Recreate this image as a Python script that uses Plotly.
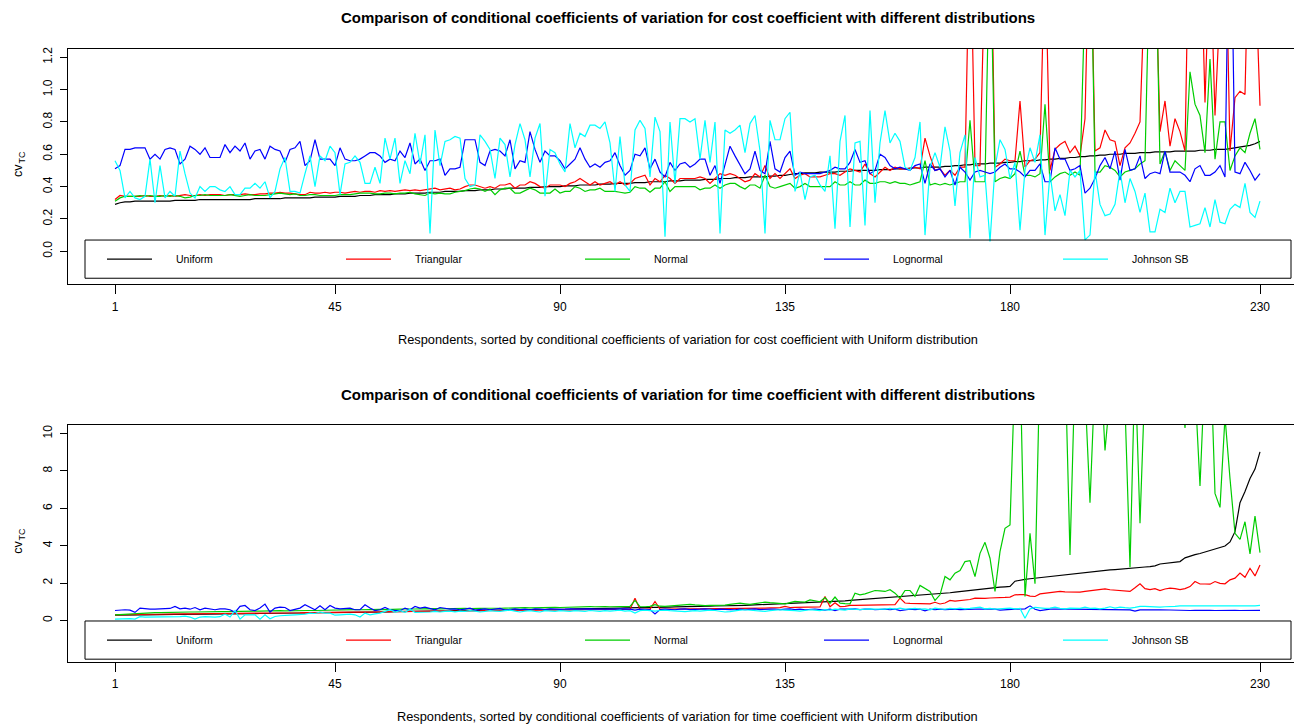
import plotly.graph_objects as go

W, H = 1294, 726

# ---------------- data ----------------
respondents = list(range(1, 231))
series_names = ["Uniform", "Triangular", "Normal", "Lognormal", "Johnson SB"]
series_colors = ["#000000", "#FF0000", "#00CD00", "#0000FF", "#00FFFF"]
x_tick_vals = [1, 45, 90, 135, 180, 230]
cost_y_ticks = [0.0, 0.2, 0.4, 0.6, 0.8, 1.0, 1.2]
time_y_ticks = [0, 2, 4, 6, 8, 10]

cost_title = "Comparison of conditional coefficients of variation for cost coefficient with different distributions"
time_title = "Comparison of conditional coefficients of variation for time coefficient with different distributions"
cost_xlabel = "Respondents, sorted by conditional coefficients of variation for cost coefficient with Uniform distribution"
time_xlabel = "Respondents, sorted by conditional coefficients of variation for time coefficient with Uniform distribution"
y_label_main = "cv"
y_label_sub = "TC"

cost_uniform = [
    0.29, 0.30, 0.305, 0.305, 0.31, 0.31, 0.31, 0.31, 0.31, 0.31,
    0.31, 0.31, 0.315, 0.315, 0.315, 0.315, 0.315, 0.32, 0.32, 0.32,
    0.32, 0.32, 0.32, 0.32, 0.32, 0.32, 0.32, 0.32, 0.325, 0.325,
    0.325, 0.325, 0.325, 0.325, 0.33, 0.33, 0.33, 0.33, 0.33, 0.33,
    0.335, 0.335, 0.335, 0.335, 0.335, 0.34, 0.34, 0.34, 0.34, 0.345,
    0.345, 0.345, 0.35, 0.35, 0.35, 0.35, 0.355, 0.355, 0.355, 0.36,
    0.36, 0.36, 0.36, 0.365, 0.365, 0.365, 0.37, 0.37, 0.37, 0.37,
    0.375, 0.375, 0.375, 0.38, 0.38, 0.38, 0.385, 0.385, 0.385, 0.39,
    0.39, 0.39, 0.39, 0.395, 0.395, 0.395, 0.40, 0.40, 0.40, 0.40,
    0.405, 0.405, 0.405, 0.41, 0.41, 0.41, 0.41, 0.415, 0.415, 0.415,
    0.42, 0.42, 0.42, 0.42, 0.425, 0.425, 0.425, 0.43, 0.43, 0.43,
    0.43, 0.435, 0.435, 0.435, 0.44, 0.44, 0.44, 0.44, 0.445, 0.445,
    0.445, 0.45, 0.45, 0.45, 0.455, 0.455, 0.455, 0.46, 0.46, 0.46,
    0.46, 0.465, 0.465, 0.47, 0.47, 0.475, 0.48, 0.48, 0.485, 0.485,
    0.485, 0.49, 0.49, 0.49, 0.49, 0.495, 0.495, 0.495, 0.50, 0.50,
    0.50, 0.50, 0.50, 0.505, 0.505, 0.505, 0.51, 0.51, 0.51, 0.515,
    0.515, 0.515, 0.52, 0.52, 0.52, 0.52, 0.525, 0.525, 0.53, 0.53,
    0.535, 0.535, 0.54, 0.54, 0.54, 0.545, 0.545, 0.545, 0.55, 0.55,
    0.555, 0.555, 0.56, 0.56, 0.56, 0.565, 0.565, 0.57, 0.57, 0.575,
    0.575, 0.58, 0.58, 0.585, 0.585, 0.59, 0.59, 0.595, 0.595, 0.60,
    0.60, 0.60, 0.605, 0.605, 0.605, 0.61, 0.61, 0.61, 0.615, 0.615,
    0.615, 0.615, 0.62, 0.62, 0.62, 0.62, 0.62, 0.625, 0.625, 0.625,
    0.63, 0.63, 0.63, 0.635, 0.64, 0.645, 0.65, 0.655, 0.665, 0.68,
]

cost_triangular = [
    0.32, 0.345, 0.34, 0.34, 0.34, 0.34, 0.345, 0.34, 0.34, 0.345,
    0.34, 0.345, 0.34, 0.345, 0.35, 0.345, 0.345, 0.35, 0.345, 0.35,
    0.35, 0.35, 0.345, 0.35, 0.35, 0.35, 0.355, 0.35, 0.35, 0.355,
    0.355, 0.36, 0.36, 0.365, 0.36, 0.36, 0.355, 0.35, 0.35, 0.365,
    0.36, 0.36, 0.365, 0.36, 0.365, 0.365, 0.36, 0.365, 0.37, 0.365,
    0.37, 0.37, 0.365, 0.375, 0.37, 0.375, 0.37, 0.375, 0.38, 0.375,
    0.38, 0.375, 0.38, 0.385, 0.39, 0.38, 0.385, 0.39, 0.38, 0.385,
    0.40, 0.41, 0.41, 0.40, 0.39, 0.40, 0.39, 0.41, 0.41, 0.42,
    0.39, 0.41, 0.41, 0.43, 0.42, 0.40, 0.39, 0.41, 0.41, 0.41,
    0.40, 0.42, 0.43, 0.45, 0.43, 0.41, 0.43, 0.41, 0.42, 0.43,
    0.41, 0.43, 0.41, 0.42, 0.45, 0.46, 0.47, 0.41, 0.45, 0.43,
    0.47, 0.45, 0.42, 0.45, 0.45, 0.45, 0.45, 0.46, 0.45, 0.42,
    0.45, 0.48, 0.47, 0.48, 0.47, 0.45, 0.43, 0.44, 0.48, 0.46,
    0.53, 0.45, 0.48, 0.45, 0.48, 0.51, 0.45, 0.47, 0.48, 0.46,
    0.46, 0.46, 0.47, 0.48, 0.48, 0.47, 0.49, 0.51, 0.50, 0.49,
    0.54, 0.48, 0.46, 0.49, 0.52, 0.50, 0.52, 0.51, 0.51, 0.51,
    0.52, 0.51, 0.70, 0.59, 0.50, 0.51, 0.47, 0.50, 0.47, 0.52,
    0.52, 2.1, 0.53, 0.53, 1.8, 2.3, 0.52, 0.54, 0.57, 0.56,
    0.56, 0.93, 0.52, 0.56, 0.57, 0.61, 1.9, 0.50, 0.63, 0.66,
    0.68, 0.61, 0.65, 0.59, 0.82, 2.2, 0.62, 0.64, 0.75, 0.69,
    0.68, 0.53, 0.64, 0.67, 0.73, 0.80, 1.7, 2.0, 1.9, 0.74,
    0.93, 0.65, 0.82, 0.74, 0.62, 2.4, 1.8, 2.1, 0.92, 1.9,
    0.84, 1.7, 2.2, 0.62, 0.95, 0.99, 0.97, 2.3, 1.8, 0.90,
]

cost_normal = [
    0.31, 0.33, 0.34, 0.34, 0.34, 0.345, 0.34, 0.345, 0.34, 0.34,
    0.345, 0.34, 0.345, 0.34, 0.33, 0.335, 0.345, 0.345, 0.35, 0.345,
    0.345, 0.345, 0.345, 0.35, 0.345, 0.34, 0.345, 0.35, 0.345, 0.345,
    0.345, 0.35, 0.355, 0.36, 0.355, 0.35, 0.355, 0.345, 0.345, 0.35,
    0.35, 0.345, 0.345, 0.345, 0.345, 0.35, 0.35, 0.35, 0.355, 0.36,
    0.36, 0.36, 0.355, 0.355, 0.36, 0.36, 0.355, 0.36, 0.36, 0.365,
    0.355, 0.35, 0.345, 0.36, 0.355, 0.36, 0.355, 0.355, 0.365, 0.37,
    0.375, 0.385, 0.39, 0.385, 0.37, 0.385, 0.35, 0.38, 0.39, 0.39,
    0.36, 0.36, 0.375, 0.39, 0.38, 0.36, 0.36, 0.36, 0.385, 0.36,
    0.37, 0.37, 0.40, 0.39, 0.37, 0.38, 0.38, 0.39, 0.37, 0.37,
    0.37, 0.365, 0.36, 0.365, 0.40, 0.39, 0.39, 0.365, 0.39, 0.39,
    0.43, 0.37, 0.40, 0.40, 0.40, 0.40, 0.40, 0.38, 0.39, 0.39,
    0.41, 0.39, 0.41, 0.42, 0.42, 0.40, 0.385, 0.41, 0.41, 0.39,
    0.47, 0.40, 0.39, 0.40, 0.41, 0.42, 0.39, 0.40, 0.42, 0.40,
    0.40, 0.40, 0.40, 0.40, 0.43, 0.41, 0.41, 0.43, 0.41, 0.41,
    0.44, 0.42, 0.42, 0.43, 0.43, 0.42, 0.43, 0.42, 0.42, 0.41,
    0.42, 0.43, 0.56, 0.41, 0.42, 0.41, 0.42, 0.41, 0.42, 0.43,
    0.43, 0.81, 0.43, 0.43, 0.43, 2.0, 0.43, 0.45, 0.46, 0.45,
    0.48, 0.62, 0.47, 0.47, 0.46, 0.48, 0.91, 0.43, 0.46, 0.48,
    0.49, 0.47, 0.49, 0.47, 1.6, 2.2, 0.49, 0.49, 0.53, 0.52,
    0.50, 0.46, 0.49, 0.50, 0.51, 0.54, 0.56, 1.9, 2.1, 0.54,
    0.62, 0.50, 0.56, 0.53, 0.50, 1.11, 0.91, 0.84, 0.61, 1.19,
    0.57, 0.80, 0.80, 0.50, 0.59, 0.64, 0.61, 0.73, 0.82, 0.63,
]

cost_lognormal = [
    0.51, 0.53, 0.63, 0.63, 0.64, 0.64, 0.64, 0.57, 0.60, 0.57,
    0.63, 0.64, 0.63, 0.54, 0.57, 0.65, 0.63, 0.60, 0.64, 0.58,
    0.58, 0.58, 0.66, 0.61, 0.65, 0.62, 0.67, 0.57, 0.62, 0.63,
    0.57, 0.65, 0.63, 0.62, 0.55, 0.63, 0.64, 0.68, 0.53, 0.56,
    0.69, 0.57, 0.57, 0.57, 0.53, 0.64, 0.57, 0.56, 0.56, 0.57,
    0.59, 0.61, 0.61, 0.59, 0.55, 0.57, 0.56, 0.62, 0.58, 0.67,
    0.54, 0.57, 0.50, 0.56, 0.56, 0.57, 0.47, 0.51, 0.51, 0.52,
    0.69, 0.69, 0.69, 0.55, 0.53, 0.62, 0.63, 0.62, 0.59, 0.69,
    0.51, 0.56, 0.55, 0.74, 0.63, 0.55, 0.62, 0.59, 0.59, 0.56,
    0.51, 0.54, 0.57, 0.64, 0.57, 0.52, 0.54, 0.52, 0.55, 0.56,
    0.61, 0.53, 0.47, 0.50, 0.60, 0.59, 0.64, 0.51, 0.57, 0.49,
    0.46, 0.55, 0.50, 0.54, 0.55, 0.52, 0.54, 0.57, 0.57, 0.47,
    0.53, 0.42, 0.54, 0.65, 0.59, 0.53, 0.48, 0.51, 0.62, 0.50,
    0.48, 0.68, 0.51, 0.49, 0.58, 0.62, 0.47, 0.49, 0.48, 0.48,
    0.48, 0.48, 0.49, 0.50, 0.52, 0.51, 0.51, 0.55, 0.63, 0.55,
    0.56, 0.48, 0.50, 0.60, 0.58, 0.53, 0.51, 0.52, 0.51, 0.50,
    0.53, 0.54, 0.42, 0.54, 0.50, 0.51, 0.46, 0.50, 0.41, 0.52,
    0.49, 0.44, 0.49, 0.50, 0.49, 0.48, 0.49, 0.52, 0.54, 0.51,
    0.51, 0.49, 0.46, 0.50, 0.50, 0.54, 0.43, 0.43, 0.64, 0.57,
    0.57, 0.50, 0.51, 0.53, 0.36, 0.39, 0.45, 0.53, 0.58, 0.51,
    0.62, 0.44, 0.63, 0.50, 0.51, 0.59, 0.45, 0.48, 0.49, 0.48,
    0.62, 0.49, 0.49, 0.49, 0.47, 0.43, 0.51, 0.53, 0.47, 0.47,
    0.49, 0.53, 0.46, 2.5, 0.49, 0.48, 0.55, 0.50, 0.44, 0.48,
]

cost_johnson = [
    0.56, 0.50, 0.33, 0.37, 0.33, 0.32, 0.34, 0.57, 0.30, 0.53,
    0.33, 0.37, 0.34, 0.62, 0.48, 0.36, 0.33, 0.40, 0.37, 0.40,
    0.40, 0.38, 0.37, 0.40, 0.35, 0.35, 0.39, 0.39, 0.42, 0.39,
    0.43, 0.33, 0.37, 0.51, 0.58, 0.37, 0.37, 0.36, 0.48, 0.59,
    0.40, 0.59, 0.56, 0.65, 0.61, 0.35, 0.54, 0.55, 0.59, 0.55,
    0.42, 0.42, 0.52, 0.42, 0.70, 0.57, 0.70, 0.42, 0.56, 0.48,
    0.73, 0.54, 0.72, 0.11, 0.75, 0.53, 0.68, 0.69, 0.71, 0.70,
    0.45, 0.40, 0.41, 0.72, 0.68, 0.63, 0.45, 0.70, 0.66, 0.46,
    0.66, 0.79, 0.69, 0.46, 0.70, 0.79, 0.34, 0.63, 0.61, 0.54,
    0.49, 0.79, 0.64, 0.73, 0.71, 0.78, 0.78, 0.76, 0.80, 0.67,
    0.37, 0.71, 0.41, 0.37, 0.75, 0.81, 0.76, 0.46, 0.83, 0.74,
    0.09, 0.80, 0.42, 0.82, 0.82, 0.80, 0.82, 0.57, 0.81, 0.55,
    0.80, 0.11, 0.75, 0.73, 0.75, 0.78, 0.61, 0.79, 0.84, 0.62,
    0.11, 0.81, 0.69, 0.69, 0.82, 0.86, 0.37, 0.49, 0.32, 0.46,
    0.47, 0.41, 0.37, 0.59, 0.14, 0.68, 0.84, 0.15, 0.67, 0.68,
    0.16, 0.87, 0.30, 0.67, 0.87, 0.67, 0.73, 0.68, 0.52, 0.50,
    0.58, 0.80, 0.10, 0.52, 0.61, 0.52, 0.77, 0.62, 0.28, 0.61,
    0.72, 0.08, 0.58, 0.46, 0.47, 0.06, 0.52, 0.69, 0.63, 0.45,
    0.55, 0.13, 0.50, 0.64, 0.55, 0.72, 0.10, 0.48, 0.25, 0.35,
    0.22, 0.50, 0.46, 0.50, 0.07, 0.10, 0.50, 0.29, 0.22, 0.23,
    0.29, 0.50, 0.30, 0.45, 0.37, 0.24, 0.36, 0.12, 0.12, 0.26,
    0.24, 0.39, 0.30, 0.37, 0.37, 0.15, 0.16, 0.17, 0.27, 0.15,
    0.32, 0.18, 0.17, 0.26, 0.29, 0.27, 0.42, 0.24, 0.21, 0.31,
]

time_uniform = [
    0.28, 0.29, 0.29, 0.30, 0.30, 0.30, 0.30, 0.31, 0.31, 0.31,
    0.31, 0.32, 0.32, 0.32, 0.32, 0.33, 0.33, 0.33, 0.33, 0.34,
    0.34, 0.34, 0.35, 0.35, 0.35, 0.35, 0.36, 0.36, 0.36, 0.37,
    0.37, 0.37, 0.38, 0.38, 0.38, 0.39, 0.39, 0.39, 0.40, 0.40,
    0.40, 0.41, 0.41, 0.42, 0.42, 0.42, 0.43, 0.43, 0.44, 0.44,
    0.44, 0.45, 0.45, 0.46, 0.46, 0.46, 0.47, 0.47, 0.48, 0.48,
    0.48, 0.49, 0.49, 0.50, 0.50, 0.50, 0.51, 0.51, 0.52, 0.52,
    0.52, 0.53, 0.53, 0.54, 0.54, 0.55, 0.55, 0.55, 0.56, 0.56,
    0.57, 0.57, 0.58, 0.58, 0.58, 0.59, 0.59, 0.60, 0.60, 0.61,
    0.61, 0.61, 0.62, 0.62, 0.63, 0.63, 0.64, 0.64, 0.65, 0.65,
    0.66, 0.66, 0.67, 0.67, 0.68, 0.68, 0.69, 0.69, 0.70, 0.70,
    0.71, 0.71, 0.72, 0.72, 0.73, 0.74, 0.74, 0.75, 0.75, 0.76,
    0.77, 0.77, 0.78, 0.79, 0.80, 0.80, 0.81, 0.82, 0.83, 0.84,
    0.85, 0.86, 0.87, 0.88, 0.89, 0.90, 0.91, 0.92, 0.93, 0.94,
    0.96, 0.97, 0.99, 1.00, 1.02, 1.03, 1.05, 1.07, 1.09, 1.11,
    1.13, 1.14, 1.16, 1.18, 1.20, 1.21, 1.23, 1.25, 1.27, 1.29,
    1.31, 1.33, 1.35, 1.37, 1.39, 1.42, 1.45, 1.48, 1.51, 1.54,
    1.58, 1.63, 1.67, 1.70, 1.72, 1.74, 1.76, 1.78, 1.80, 1.82,
    2.10, 2.16, 2.20, 2.23, 2.26, 2.29, 2.32, 2.35, 2.39, 2.43,
    2.47, 2.50, 2.53, 2.55, 2.58, 2.60, 2.63, 2.65, 2.68, 2.70,
    2.72, 2.75, 2.77, 2.79, 2.82, 2.84, 2.86, 2.88, 2.92, 3.02,
    3.06, 3.09, 3.12, 3.15, 3.35, 3.45, 3.52, 3.58, 3.66, 3.74,
    3.80, 3.86, 3.98, 4.20, 4.75, 6.30, 6.90, 7.60, 8.10, 9.02,
]

time_triangular = [
    0.30, 0.31, 0.31, 0.32, 0.32, 0.32, 0.33, 0.33, 0.33, 0.34,
    0.34, 0.34, 0.34, 0.35, 0.35, 0.35, 0.36, 0.36, 0.36, 0.36,
    0.37, 0.37, 0.37, 0.38, 0.38, 0.38, 0.38, 0.39, 0.39, 0.39,
    0.39, 0.40, 0.40, 0.40, 0.41, 0.41, 0.41, 0.41, 0.42, 0.42,
    0.42, 0.43, 0.43, 0.43, 0.44, 0.44, 0.44, 0.45, 0.45, 0.45,
    0.45, 0.46, 0.46, 0.46, 0.47, 0.47, 0.47, 0.47, 0.48, 0.48,
    0.48, 0.48, 0.49, 0.49, 0.49, 0.49, 0.50, 0.50, 0.50, 0.50,
    0.51, 0.51, 0.51, 0.51, 0.52, 0.52, 0.52, 0.52, 0.53, 0.53,
    0.53, 0.53, 0.54, 0.54, 0.54, 0.54, 0.55, 0.55, 0.55, 0.55,
    0.56, 0.56, 0.56, 0.56, 0.57, 0.57, 0.57, 0.57, 0.58, 0.58,
    0.58, 0.58, 0.59, 0.59, 1.19, 0.59, 0.60, 0.60, 1.01, 0.60,
    0.60, 0.61, 0.61, 0.61, 0.61, 0.62, 0.62, 0.62, 0.62, 0.63,
    0.63, 0.63, 0.64, 0.64, 0.64, 0.65, 0.65, 0.65, 0.66, 0.66,
    0.66, 0.67, 0.67, 0.68, 0.75, 0.69, 0.70, 0.70, 0.71, 0.71,
    0.72, 0.72, 1.28, 0.73, 0.95, 0.74, 0.75, 0.80, 0.80, 0.81,
    0.81, 0.82, 0.82, 0.83, 0.83, 0.84, 0.84, 1.19, 0.93, 0.91,
    0.90, 0.90, 0.89, 0.89, 0.97, 0.88, 0.93, 1.07, 1.03, 1.05,
    1.08, 1.12, 1.19, 1.17, 1.18, 1.20, 1.20, 1.22, 1.23, 1.25,
    1.37, 1.38, 1.38, 1.30, 1.28, 1.42, 1.45, 1.48, 1.52, 1.55,
    1.53, 1.51, 1.50, 1.51, 1.55, 1.58, 1.60, 1.63, 1.69, 1.64,
    1.62, 1.60, 1.57, 1.55, 1.75, 1.96, 1.70, 1.65, 1.70, 1.60,
    1.68, 1.73, 1.70, 1.65, 1.70, 1.81, 2.08, 1.95, 1.95, 1.94,
    2.08, 1.98, 1.96, 2.17, 2.26, 2.53, 2.31, 2.79, 2.38, 2.97,
]

time_normal = [
    0.30, 0.32, 0.33, 0.35, 0.38, 0.40, 0.40, 0.41, 0.42, 0.42,
    0.43, 0.43, 0.44, 0.44, 0.45, 0.45, 0.45, 0.46, 0.46, 0.46,
    0.47, 0.47, 0.47, 0.48, 0.48, 0.49, 0.50, 0.49, 0.50, 0.50,
    0.51, 0.50, 0.51, 0.52, 0.51, 0.52, 0.52, 0.53, 0.52, 0.53,
    0.53, 0.54, 0.53, 0.54, 0.55, 0.56, 0.58, 0.57, 0.58, 0.57,
    0.58, 0.57, 0.58, 0.59, 0.58, 0.60, 0.59, 0.60, 0.61, 0.60,
    0.61, 0.62, 0.61, 0.62, 0.63, 0.62, 0.63, 0.62, 0.64, 0.63,
    0.64, 0.63, 0.65, 0.64, 0.65, 0.64, 0.66, 0.65, 0.66, 0.67,
    0.66, 0.67, 0.68, 0.67, 0.68, 0.69, 0.68, 0.69, 0.70, 0.69,
    0.70, 0.71, 0.72, 0.74, 0.73, 0.74, 0.73, 0.75, 0.74, 0.73,
    0.74, 0.72, 0.73, 0.75, 1.07, 0.74, 0.73, 0.75, 0.84, 0.76,
    0.75, 0.77, 0.79, 0.84, 0.87, 0.86, 0.83, 0.80, 0.79, 0.80,
    0.81, 0.79, 0.82, 0.86, 0.88, 0.92, 0.89, 0.86, 0.90, 0.96,
    0.98, 0.95, 0.93, 0.90, 0.88, 0.95, 1.02, 1.00, 0.98, 1.10,
    1.05, 1.00, 1.22, 0.92, 1.25, 0.92, 0.90, 0.89, 1.46, 1.37,
    1.42, 1.51, 1.60, 1.58, 1.55, 1.64, 1.46, 1.19, 1.60, 1.60,
    1.28, 1.87, 1.73, 1.55, 1.07, 1.37, 2.35, 2.17, 2.53, 2.67,
    3.15, 3.20, 2.35, 3.59, 4.18, 3.33, 1.55, 3.68, 4.93, 5.11,
    13.5, 14.2, 1.28, 4.66, 1.96, 14.0, 15.1, 13.2, 16.0, 12.6,
    14.1, 3.50, 13.4, 15.2, 12.3, 6.30, 13.1, 14.4, 9.10, 12.2,
    15.0, 13.3, 11.5, 2.85, 13.8, 5.20, 12.9, 12.1, 15.3, 14.0,
    13.2, 12.4, 16.1, 13.3, 10.3, 14.2, 12.5, 7.20, 13.6, 15.1,
    6.80, 6.05, 10.9, 7.60, 4.66, 4.34, 5.28, 3.56, 5.59, 3.63,
]

time_lognormal = [
    0.53, 0.55, 0.57, 0.55, 0.43, 0.66, 0.62, 0.60, 0.60, 0.60,
    0.62, 0.64, 0.75, 0.62, 0.66, 0.60, 0.69, 0.57, 0.66, 0.60,
    0.57, 0.62, 0.62, 0.57, 0.43, 0.75, 0.80, 0.57, 0.53, 0.66,
    0.87, 0.45, 0.66, 0.71, 0.69, 0.53, 0.60, 0.66, 0.84, 0.69,
    0.57, 0.78, 0.57, 0.80, 0.66, 0.62, 0.62, 0.66, 0.57, 0.57,
    0.84, 0.66, 0.53, 0.57, 0.69, 0.57, 0.53, 0.52, 0.66, 0.57,
    0.75, 0.66, 0.71, 0.66, 0.57, 0.69, 0.66, 0.60, 0.62, 0.57,
    0.60, 0.66, 0.55, 0.60, 0.62, 0.57, 0.60, 0.64, 0.55, 0.60,
    0.62, 0.58, 0.60, 0.57, 0.62, 0.60, 0.58, 0.62, 0.60, 0.59,
    0.60, 0.62, 0.60, 0.61, 0.60, 0.62, 0.60, 0.62, 0.61, 0.60,
    0.61, 0.60, 0.62, 0.60, 0.55, 0.60, 0.60, 0.58, 0.34, 0.58,
    0.60, 0.58, 0.57, 0.60, 0.62, 0.58, 0.57, 0.60, 0.62, 0.60,
    0.58, 0.60, 0.61, 0.58, 0.57, 0.60, 0.58, 0.60, 0.62, 0.58,
    0.57, 0.60, 0.61, 0.58, 0.60, 0.62, 0.58, 0.60, 0.57, 0.60,
    0.61, 0.58, 0.55, 0.60, 0.52, 0.60, 0.58, 0.60, 0.62, 0.58,
    0.60, 0.61, 0.57, 0.60, 0.60, 0.57, 0.60, 0.52, 0.58, 0.60,
    0.58, 0.60, 0.51, 0.60, 0.57, 0.60, 0.58, 0.60, 0.60, 0.58,
    0.60, 0.58, 0.60, 0.60, 0.60, 0.57, 0.60, 0.55, 0.58, 0.60,
    0.60, 0.60, 0.62, 0.78, 0.60, 0.52, 0.57, 0.60, 0.60, 0.58,
    0.60, 0.60, 0.60, 0.58, 0.60, 0.60, 0.57, 0.60, 0.60, 0.58,
    0.57, 0.58, 0.60, 0.56, 0.50, 0.56, 0.57, 0.55, 0.56, 0.57,
    0.56, 0.55, 0.56, 0.55, 0.53, 0.53, 0.54, 0.55, 0.55, 0.54,
    0.53, 0.54, 0.55, 0.54, 0.54, 0.53, 0.54, 0.53, 0.53, 0.54,
]

time_johnson = [
    0.07, 0.08, 0.08, 0.10, 0.07, 0.20, 0.18, 0.18, 0.16, 0.18,
    0.18, 0.17, 0.18, 0.20, 0.23, 0.18, 0.07, 0.18, 0.20, 0.18,
    0.18, 0.20, 0.34, 0.18, 0.53, 0.07, 0.30, 0.30, 0.30, 0.07,
    0.30, 0.09, 0.21, 0.25, 0.25, 0.28, 0.30, 0.30, 0.33, 0.39,
    0.37, 0.45, 0.39, 0.39, 0.28, 0.30, 0.33, 0.34, 0.30, 0.18,
    0.39, 0.30, 0.35, 0.39, 0.48, 0.57, 0.45, 0.52, 0.43, 0.60,
    0.43, 0.43, 0.46, 0.45, 0.48, 0.45, 0.48, 0.50, 0.46, 0.50,
    0.48, 0.52, 0.50, 0.45, 0.48, 0.52, 0.50, 0.48, 0.52, 0.55,
    0.50, 0.45, 0.50, 0.52, 0.48, 0.45, 0.52, 0.50, 0.48, 0.52,
    0.50, 0.48, 0.52, 0.50, 0.48, 0.53, 0.50, 0.48, 0.52, 0.50,
    0.52, 0.55, 0.50, 0.52, 0.39, 0.52, 0.55, 0.52, 0.50, 0.53,
    0.55, 0.52, 0.50, 0.45, 0.47, 0.50, 0.52, 0.50, 0.52, 0.55,
    0.53, 0.50, 0.45, 0.47, 0.52, 0.55, 0.57, 0.55, 0.52, 0.50,
    0.48, 0.52, 0.55, 0.57, 0.55, 0.55, 0.52, 0.50, 0.55, 0.57,
    0.55, 0.52, 0.58, 0.55, 0.60, 0.57, 0.55, 0.62, 0.60, 0.58,
    0.60, 0.62, 0.60, 0.58, 0.60, 0.64, 0.60, 0.66, 0.60, 0.62,
    0.64, 0.60, 0.62, 0.57, 0.66, 0.62, 0.60, 0.64, 0.62, 0.66,
    0.62, 0.64, 0.66, 0.71, 0.62, 0.64, 0.60, 0.62, 0.64, 0.66,
    0.62, 0.64, 0.12, 0.62, 0.70, 0.66, 0.64, 0.66, 0.71, 0.64,
    0.62, 0.66, 0.64, 0.64, 0.71, 0.64, 0.66, 0.62, 0.66, 0.73,
    0.66, 0.71, 0.68, 0.66, 0.70, 0.75, 0.75, 0.73, 0.73, 0.71,
    0.73, 0.73, 0.75, 0.78, 0.78, 0.76, 0.75, 0.78, 0.75, 0.76,
    0.76, 0.75, 0.76, 0.78, 0.76, 0.78, 0.76, 0.76, 0.78, 0.80,
]

cost_series = [cost_uniform, cost_triangular, cost_normal, cost_lognormal, cost_johnson]
time_series = [time_uniform, time_triangular, time_normal, time_lognormal, time_johnson]
for s in cost_series + time_series:
    assert len(s) == len(respondents), len(s)

# ---------------- layout helpers (pixel -> paper) ----------------
def px(x):
    return x / W

def py(y):
    return 1 - y / H

FONT = "Liberation Sans, Arial, Helvetica, sans-serif"

panels = [
    dict(top=46.7, bottom=283.0, yrange=[-0.204, 1.254], yticks=cost_y_ticks, fmt="{:.1f}",
         title=cost_title, title_y=16, xlabel=cost_xlabel, xlabel_y=338,
         leg_top=238.7, leg_bot=277.0, series=cost_series),
    dict(top=424.0, bottom=661.7, yrange=[-2.22, 10.47], yticks=time_y_ticks, fmt="{:d}",
         title=time_title, title_y=394, xlabel=time_xlabel, xlabel_y=716,
         leg_top=620.7, leg_bot=659.0, series=time_series),
]
PLOT_LEFT = 68.0
XRANGE = [-8.4, 236.8]

fig = go.Figure()
layout = dict(
    width=W, height=H,
    margin=dict(l=0, r=0, t=0, b=0),
    paper_bgcolor="white", plot_bgcolor="white",
    font=dict(family=FONT, color="black", size=12),
    showlegend=False,
)
annotations = []
shapes = []

for p_i, p in enumerate(panels):
    xa = "x" if p_i == 0 else "x2"
    ya = "y" if p_i == 0 else "y2"
    xkey = "xaxis" if p_i == 0 else "xaxis2"
    ykey = "yaxis" if p_i == 0 else "yaxis2"

    for name, color, ys in zip(series_names, series_colors, p["series"]):
        fig.add_trace(go.Scatter(
            x=respondents, y=ys, mode="lines", name=name,
            line=dict(color=color, width=1.2),
            xaxis=xa, yaxis=ya, showlegend=False,
        ))

    layout[xkey] = dict(
        domain=[px(PLOT_LEFT), 1.0], range=XRANGE, anchor=ya,
        tickmode="array", tickvals=x_tick_vals, ticktext=[str(v) for v in x_tick_vals],
        ticks="outside", ticklen=9, tickwidth=1, tickcolor="black",
        ticklabelstandoff=2,
        showline=True, linecolor="black", linewidth=1, mirror=True,
        showgrid=False, zeroline=False, tickfont=dict(size=12, family=FONT),
    )
    layout[ykey] = dict(
        domain=[py(p["bottom"]), py(p["top"])], range=p["yrange"], anchor=xa,
        tickmode="array", tickvals=p["yticks"],
        ticktext=[p["fmt"].format(v) for v in p["yticks"]],
        tickangle=-90,
        ticks="outside", ticklen=7, tickwidth=1, tickcolor="black",
        ticklabelstandoff=3,
        showline=True, linecolor="black", linewidth=1, mirror=False,
        showgrid=False, zeroline=False, tickfont=dict(size=12, family=FONT),
    )

    # titles & axis labels
    annotations.append(dict(
        text=p["title"], x=px(687.5), y=py(p["title_y"]),
        xref="paper", yref="paper", xanchor="center", yanchor="middle",
        showarrow=False, font=dict(size=15, family=FONT, color="black", weight="bold"),
    ))
    annotations.append(dict(
        text=p["xlabel"], x=px(687.5), y=py(p["xlabel_y"]),
        xref="paper", yref="paper", xanchor="center", yanchor="middle",
        showarrow=False, font=dict(size=12.8, family=FONT, color="black"),
    ))
    c = (p["top"] + p["bottom"]) / 2
    # y label "cv" with subscript "TC" (rotated, reading upwards)
    annotations.append(dict(
        text=y_label_main, x=px(18), y=py(c + 4.5),
        xref="paper", yref="paper", xanchor="center", yanchor="middle",
        textangle=-90, showarrow=False, font=dict(size=12.5, family=FONT, color="black"),
    ))
    annotations.append(dict(
        text=y_label_sub, x=px(21.5), y=py(c - 8.5),
        xref="paper", yref="paper", xanchor="center", yanchor="middle",
        textangle=-90, showarrow=False, font=dict(size=9, family=FONT, color="black"),
    ))

    # legend box (drawn like R's legend inside the plot region)
    shapes.append(dict(
        type="rect", xref="paper", yref="paper",
        x0=px(85), x1=px(1291), y0=py(p["leg_bot"]), y1=py(p["leg_top"]),
        line=dict(color="black", width=1), fillcolor="rgba(0,0,0,0)", layer="above",
    ))
    leg_y = (p["leg_top"] + p["leg_bot"]) / 2
    for k, (name, color) in enumerate(zip(series_names, series_colors)):
        x0 = 107 + 239 * k
        shapes.append(dict(
            type="line", xref="paper", yref="paper",
            x0=px(x0), x1=px(x0 + 45), y0=py(leg_y), y1=py(leg_y),
            line=dict(color=color, width=1.2), layer="above",
        ))
        annotations.append(dict(
            text=name, x=px(x0 + 67), y=py(leg_y), xref="paper", yref="paper",
            xanchor="left", yanchor="middle", showarrow=False,
            font=dict(size=10.5, family=FONT, color="black"),
        ))

layout["annotations"] = annotations
layout["shapes"] = shapes
fig.update_layout(**layout)

fig.write_html("out.html")
